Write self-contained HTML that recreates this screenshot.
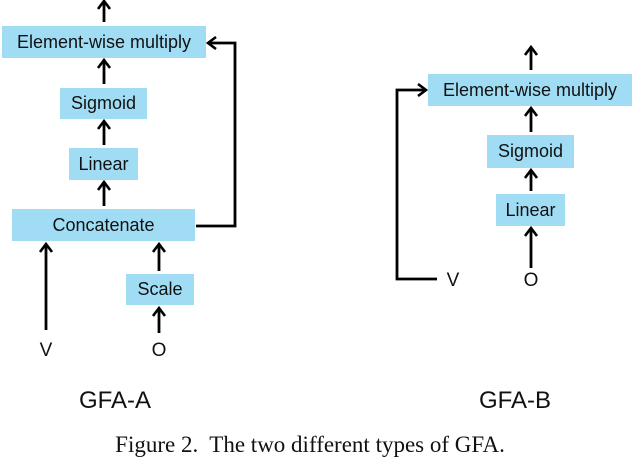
<!DOCTYPE html>
<html><head><style>
body{margin:0;width:634px;height:460px;background:#fff;position:relative;overflow:hidden;font-family:"Liberation Sans",sans-serif}
.b{position:absolute;background:#a0ddf5;display:flex;align-items:center;justify-content:center;font-size:18px;color:#111;white-space:nowrap}
.t{position:absolute;transform:translate(-50%,-50%);white-space:nowrap;color:#111}
svg{position:absolute;left:0;top:0}
</style></head><body>
<svg width="634" height="460">
<defs><marker id="a" markerWidth="14" markerHeight="14" refX="10" refY="7" orient="auto" markerUnits="userSpaceOnUse"><path d="M2,1 L10,7 L2,13" fill="none" stroke="#000" stroke-width="2.6"/></marker></defs>
<g stroke="#000" stroke-width="2.8" fill="none">
<line x1="104" y1="22" x2="104" y2="1" marker-end="url(#a)"/>
<line x1="104" y1="84" x2="104" y2="60" marker-end="url(#a)"/>
<line x1="104" y1="145" x2="104" y2="121" marker-end="url(#a)"/>
<line x1="104" y1="206" x2="104" y2="182" marker-end="url(#a)"/>
<polyline points="196,226 235,226 235,43 208,43" marker-end="url(#a)"/>
<line x1="46" y1="330" x2="46" y2="244" marker-end="url(#a)"/>
<line x1="159" y1="271" x2="159" y2="244" marker-end="url(#a)"/>
<line x1="159" y1="333" x2="159" y2="308" marker-end="url(#a)"/>
<line x1="531" y1="70" x2="531" y2="47" marker-end="url(#a)"/>
<line x1="531" y1="132" x2="531" y2="108" marker-end="url(#a)"/>
<line x1="531" y1="191" x2="531" y2="170" marker-end="url(#a)"/>
<line x1="531" y1="268" x2="531" y2="228" marker-end="url(#a)"/>
<polyline points="437,279 397,279 397,90 426,90" marker-end="url(#a)"/>
</g></svg>
<div class="b" style="left:2px;top:26px;width:204px;height:32px">Element-wise multiply</div>
<div class="b" style="left:60px;top:88px;width:87px;height:31px">Sigmoid</div>
<div class="b" style="left:69px;top:148px;width:69px;height:32px">Linear</div>
<div class="b" style="left:12px;top:209px;width:183px;height:32px">Concatenate</div>
<div class="b" style="left:126px;top:274px;width:68px;height:31px">Scale</div>
<div class="t" style="left:46px;top:351px;font-size:19px">V</div>
<div class="t" style="left:159px;top:351px;font-size:19px">O</div>
<div class="t" style="left:115px;top:401px;font-size:24px">GFA-A</div>
<div class="b" style="left:428px;top:74px;width:204px;height:32px">Element-wise multiply</div>
<div class="b" style="left:487px;top:135px;width:87px;height:33px">Sigmoid</div>
<div class="b" style="left:496px;top:194px;width:69px;height:32px">Linear</div>
<div class="t" style="left:453px;top:281px;font-size:19px">V</div>
<div class="t" style="left:531px;top:281px;font-size:19px">O</div>
<div class="t" style="left:515px;top:401px;font-size:24px">GFA-B</div>
<div class="t" style="left:310px;top:445px;font-size:23px;font-family:'Liberation Serif',serif">Figure 2.&nbsp; The two different types of GFA.</div>
</body></html>
